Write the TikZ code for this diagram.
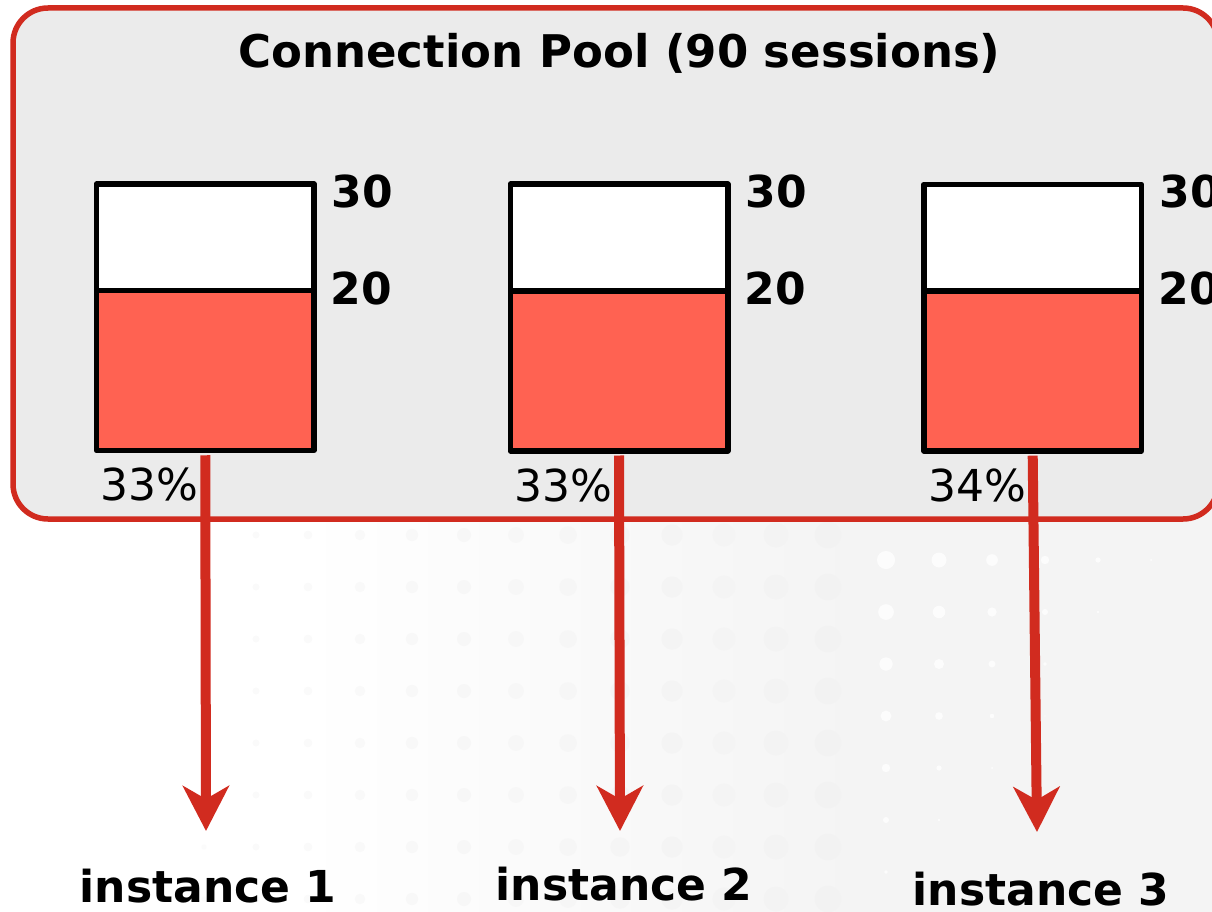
\documentclass[tikz,border=0pt]{standalone}
\usepackage{fontspec}
\setmainfont{DejaVu Sans}
\usetikzlibrary{arrows.meta,calc}
\definecolor{poolred}{HTML}{D12B1F}
\definecolor{poolgray}{HTML}{EBEBEB}
\definecolor{fillred}{HTML}{FF6252}
\definecolor{haze}{HTML}{F4F4F4}
\begin{document}
\begin{tikzpicture}[x=1pt,y=-1pt,
  poolbox/.style={draw=poolred, fill=poolgray, line width=5.5pt,
    rounded corners=35pt, minimum width=1205pt, minimum height=511pt, inner sep=0pt},
  gauge/.style={draw=black, fill=white, line width=5.5pt, line join=round,
    minimum width=217.5pt, minimum height=266.5pt, inner sep=0pt,
    path picture={
      \fill[fillred] (path picture bounding box.south west) rectangle
        ($(path picture bounding box.north east)!0.4!(path picture bounding box.south east)$);
      \draw[line width=5.5pt]
        ($(path picture bounding box.north west)!0.4!(path picture bounding box.south west)$) --
        ($(path picture bounding box.north east)!0.4!(path picture bounding box.south east)$);
    }},
  heading/.style={font=\fontsize{45}{50}\selectfont\bfseries, inner sep=0pt},
  level/.style={font=\fontsize{44}{48}\selectfont\bfseries, inner sep=0pt},
  share/.style={font=\fontsize{44}{48}\selectfont, inner sep=0pt},
  target/.style={font=\fontsize{44}{48}\selectfont\bfseries, inner sep=0pt},
  flow/.style={draw=poolred, line width=10pt,
    -{Stealth[length=45pt, width=46pt, inset=13pt]}}
]
\useasboundingbox (0,0) rectangle (1212,912);
\clip (0,0) rectangle (1212,912);

% backdrop with a faint halftone of dots
\fill[white] (0,0) rectangle (1212,912);
\shade[left color=white, right color=haze] (300,500) rectangle (860,912);
\fill[haze] (860,500) rectangle (1212,912);
\foreach \c in {0,...,12}{
  \foreach \r in {0,...,7}{
    \pgfmathsetmacro{\rad}{2.5+0.9*\c}
    \pgfmathsetmacro{\tone}{1.5+0.3*\c}
    \fill[black!\tone] (204+52*\c,535+52*\r) circle[radius=\rad pt];
  }
}
\foreach \c in {0,...,5}{
  \foreach \r in {0,...,6}{
    \pgfmathsetmacro{\rad}{9-1.6*\c-1.2*\r}
    \ifdim\rad pt>0.5pt
      \fill[white, opacity=0.8] (886+53*\c,560+52*\r) circle[radius=\rad pt];
    \fi
  }
}

% the pool
\node[poolbox] (pool) at (615.5,263.5) {};
\node[heading, anchor=base] (title) at (619.5,68) {Connection Pool (90 sessions)};

% session gauges
\node[gauge] (g1) at (205.25,317.25) {};
\node[gauge] (g2) at (619,317.5) {};
\node[gauge] (g3) at (1032.7,317.7) {};

\foreach \g/\p in {g1/33\%, g2/33\%, g3/34\%}{
  \node[level, anchor=base west] (\g max) at ($(\g.north east)+(15,26)$) {30};
  \node[level, anchor=base west] (\g min) at ($(\g.north east)+(14,123)$) {20};
  \node[share, anchor=base west] (\g pct) at ($(\g.south west)+(7,47.5)$) {\p};
}

% instances
\node[target, anchor=base] (i1) at (208,902) {instance 1};
\node[target, anchor=base] (i2) at (624,900) {instance 2};
\node[target, anchor=base] (i3) at (1041,905) {instance 3};

\coordinate (t1) at (206,831);
\coordinate (t2) at (620,831);
\coordinate (t3) at (1037,832);

\draw[flow] ([yshift=-2pt]g1.south) -- (t1);
\draw[flow] ([yshift=-2pt]g2.south) -- (t2);
\draw[flow] ([yshift=-2pt]g3.south) -- (t3);
\end{tikzpicture}
\end{document}
